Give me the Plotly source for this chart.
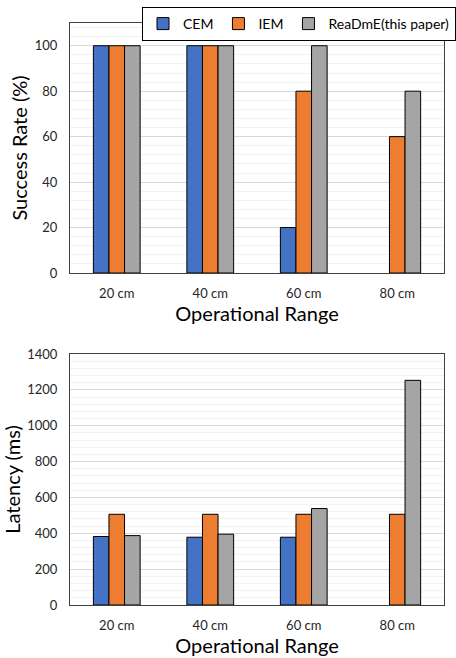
import plotly.graph_objects as go

categories = ["20 cm", "40 cm", "60 cm", "80 cm"]
series_names = ["CEM", "IEM", "ReaDmE(this paper)"]
success_cem = [100, 100, 20, None]
success_iem = [100, 100, 80, 60]
success_readme = [100, 100, 100, 80]
latency_cem = [382, 378, 378, None]
latency_iem = [506, 506, 506, 506]
latency_readme = [387, 395, 538, 1253]
colors = ["#4472C4", "#ED7D31", "#A5A5A5"]

FONT = "Lato"
fig = go.Figure()

for i, (name, vals) in enumerate(zip(series_names, [success_cem, success_iem, success_readme])):
    fig.add_trace(go.Bar(x=categories, y=vals, name=name, marker=dict(color=colors[i], line=dict(color="black", width=1)),
                         xaxis="x", yaxis="y", legendgroup=name, showlegend=True))
for i, (name, vals) in enumerate(zip(series_names, [latency_cem, latency_iem, latency_readme])):
    fig.add_trace(go.Bar(x=categories, y=vals, name=name, marker=dict(color=colors[i], line=dict(color="black", width=1)),
                         xaxis="x2", yaxis="y2", legendgroup=name, showlegend=False))

H = 658.0
W = 456.0
xd = [70 / W, 444 / W]
axis_common = dict(showline=True, linecolor="#404040", linewidth=1, mirror=True, ticks="",
                   tickfont=dict(family=FONT, size=13, color="#262626"))
title_font = dict(family=FONT, size=20, color="black")

fig.update_layout(
    width=456, height=658,
    margin=dict(l=0, r=0, t=0, b=0, autoexpand=False),
    paper_bgcolor="white", plot_bgcolor="white",
    barmode="group", bargap=0.5, bargroupgap=0,
    font=dict(family=FONT, color="#262626"),
    xaxis=dict(domain=xd, anchor="y", ticklabelstandoff=8, **axis_common,
               title=dict(text="Operational Range", font=title_font, standoff=6)),
    yaxis=dict(domain=[1 - 273 / H, 1 - 23 / H], anchor="x", range=[0, 110], tickvals=[0, 20, 40, 60, 80, 100],
               showgrid=True, gridcolor="#D9D9D9", gridwidth=1, zeroline=False, ticklabelstandoff=9,
               minor=dict(dtick=4, showgrid=True, gridcolor="#F2F2F2", gridwidth=1),
               **axis_common,
               title=dict(text="Success Rate (%)", font=title_font, standoff=1)),
    xaxis2=dict(domain=xd, anchor="y2", ticklabelstandoff=8, **axis_common,
                title=dict(text="Operational Range", font=title_font, standoff=6)),
    yaxis2=dict(domain=[1 - 605 / H, 1 - 354 / H], anchor="x2", range=[0, 1400], dtick=200,
                showgrid=True, gridcolor="#D9D9D9", gridwidth=1, zeroline=False, ticklabelstandoff=9,
                minor=dict(dtick=40, showgrid=True, gridcolor="#F2F2F2", gridwidth=1),
                **axis_common,
                title=dict(text="Latency (ms)", font=title_font, standoff=6)),
    legend=dict(orientation="h", x=1.0, y=1 - 7 / H, xanchor="right", yanchor="top",
                bordercolor="black", borderwidth=1, bgcolor="white",
                font=dict(family=FONT, size=14, color="black"), itemwidth=30, traceorder="normal"),
)

fig.write_html("out.html", config={"displayModeBar": False},
               post_script="document.body.style.margin='0';document.body.style.overflow='hidden';")
